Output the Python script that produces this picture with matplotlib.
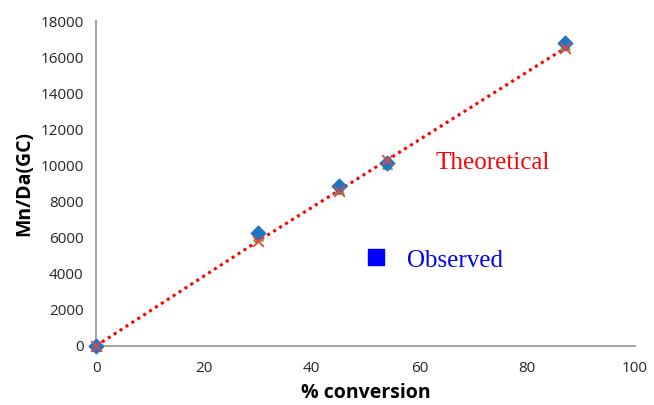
import matplotlib
matplotlib.use("Agg")
import matplotlib.pyplot as plt

conversion = [0, 30, 45, 54, 87]
observed = [0, 6250, 8850, 10150, 16800]
observed_alt = [0, 6100, 8700, 10100, 16650]
theoretical = [0, 5800, 8600, 10300, 16500]

x_ticks = [0, 20, 40, 60, 80, 100]
y_ticks = [0, 2000, 4000, 6000, 8000, 10000, 12000, 14000, 16000, 18000]

fig = plt.figure(figsize=(6.54, 4.05), dpi=100)
ax = fig.add_axes([0.147, 0.146, 0.824, 0.802])

ax.plot(conversion, theoretical, linestyle=(0, (1, 1.3)), color="#FF0000", linewidth=2.2, zorder=2)
ax.scatter(conversion, observed_alt, marker="^", s=45, color="#70AD47", zorder=3, clip_on=False)
ax.scatter(conversion, observed, marker="D", s=55, color="#1F77C4", zorder=4, clip_on=False)
ax.scatter(conversion, theoretical, marker="x", s=60, color="#E8453C", linewidths=1.3, zorder=5, clip_on=False)

ax.set_xlim(0, 100)
ax.set_ylim(0, 18000)
ax.set_xticks(x_ticks)
ax.set_yticks(y_ticks)
ax.tick_params(length=0, labelsize=11, colors="#262626")
ax.tick_params(axis="x", pad=11)
ax.tick_params(axis="y", pad=9)
for lbl in ax.get_xticklabels() + ax.get_yticklabels():
    lbl.set_fontfamily("Open Sans")
for s in ["top", "right"]:
    ax.spines[s].set_visible(False)
for s in ["left", "bottom"]:
    ax.spines[s].set_color("#A6A6A6")
    ax.spines[s].set_linewidth(1.5)

ax.set_xlabel("% conversion", fontsize=14, fontweight="bold", family="Open Sans", labelpad=5)
ax.set_ylabel("Mn/Da(GC)", fontsize=14, fontweight="bold", family="Open Sans", labelpad=4)

ax.text(73.5, 10150, "Theoretical", color="#FF0000", fontsize=18, family="Liberation Serif",
        ha="center", va="center")
ax.scatter([52], [4950], marker="s", s=130, color="#0000FF", clip_on=False)
ax.text(66.5, 4700, "Observed", color="#0000FF", fontsize=18, family="Liberation Serif",
        ha="center", va="center")

fig.savefig("out.png", dpi=100)
